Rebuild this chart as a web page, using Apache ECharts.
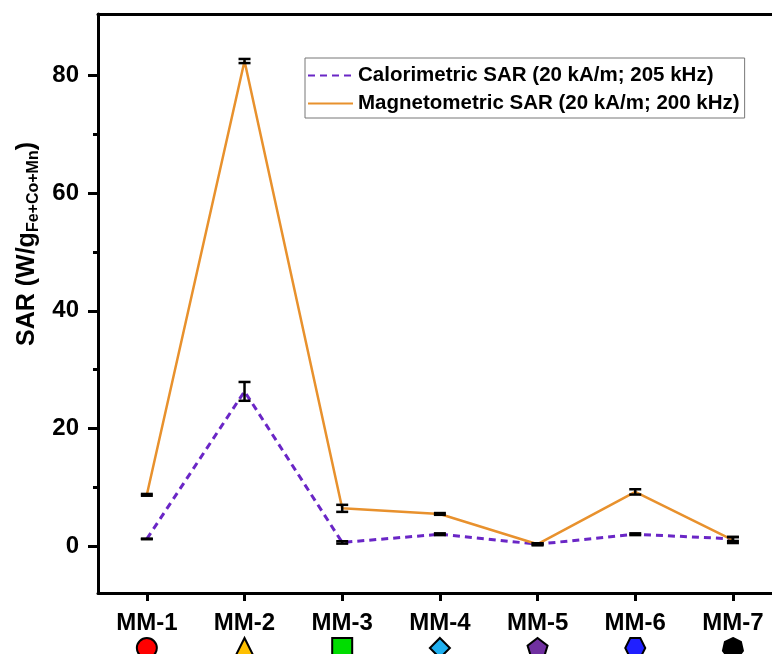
<!DOCTYPE html>
<html>
<head>
<meta charset="utf-8">
<script src="https://cdn.jsdelivr.net/npm/echarts@6/dist/echarts.min.js"></script>
<style>html,body{margin:0;padding:0;background:#fff;}#c{width:772px;height:654px;}</style>
</head>
<body>
<div id="c"></div>
<script>
const categories = ['MM-1', 'MM-2', 'MM-3', 'MM-4', 'MM-5', 'MM-6', 'MM-7'];
const categoryPositions = [1, 2, 3, 4, 5, 6, 7];
const calSAR = [1.2, 26.3, 0.6, 2.0, 0.3, 2.0, 1.2];
const calErr = [0.05, 1.6, 0.2, 0.15, 0.15, 0.15, 0.35];
const magSAR = [8.7, 82.5, 6.4, 5.45, 0.3, 9.2, 1.0];
const magErr = [0.15, 0.35, 0.6, 0.15, 0.15, 0.45, 0.5];
const yMajorTicks = [0, 20, 40, 60, 80];
const yMinorTicks = [10, 30, 50, 70];
const calName = 'Calorimetric SAR (20 kA/m; 205 kHz)';
const magName = 'Magnetometric SAR (20 kA/m; 200 kHz)';
const markerValues = [0, 0, 0, 0, 0, 0, 0];

function polyPath(n, startDeg) {
  let s = 'path://';
  for (let k = 0; k < n; k++) {
    const a = (startDeg + k * 360 / n) * Math.PI / 180;
    const x = (50 + 50 * Math.cos(a)).toFixed(2), y = (50 + 50 * Math.sin(a)).toFixed(2);
    s += (k === 0 ? 'M' : 'L') + x + ' ' + y + ' ';
  }
  return s + 'Z';
}
const markerShapes = ['circle', 'triangle', 'rect', 'diamond', polyPath(5, -90), polyPath(6, 0), polyPath(7, -90)];
const markerColors = ['#ff0000', '#ffc000', '#00dd00', '#1fb0f0', '#7030a0', '#2020ff', '#000000'];

const FONT = '"Liberation Sans", Arial, sans-serif';
const chart = echarts.init(document.getElementById('c'));

function errRender(vals, errs) {
  return function (params, api) {
    const x = api.value(0);
    const i = params.dataIndex;
    const v = vals[i], e = errs[i];
    const top = api.coord([x, v + e]);
    const bot = api.coord([x, v - e]);
    const hw = 6;
    const st = { stroke: '#000', lineWidth: 2.5 };
    return {
      type: 'group',
      children: [
        { type: 'line', shape: { x1: top[0], y1: top[1], x2: bot[0], y2: bot[1] }, style: st },
        { type: 'line', shape: { x1: top[0] - hw, y1: top[1], x2: top[0] + hw, y2: top[1] }, style: st },
        { type: 'line', shape: { x1: bot[0] - hw, y1: bot[1], x2: bot[0] + hw, y2: bot[1] }, style: st }
      ]
    };
  };
}

const xMin = 0.5, xMax = 7.4;
const option = {
  animation: false,
  backgroundColor: '#fff',
  grid: [
    { left: 98, top: 14, right: 0, height: 579 },
    { left: 98, top: 642, right: 0, height: 24 }
  ],
  legend: {
    orient: 'vertical',
    left: 305,
    top: 58,
    data: [calName, magName],
    itemWidth: 45,
    itemHeight: 14,
    itemGap: 7,
    padding: [7, 5, 4, 2],
    borderColor: '#777',
    borderWidth: 1,
    itemStyle: { opacity: 0 },
    textStyle: { fontFamily: FONT, fontWeight: 'bold', fontSize: 20.5, color: '#000' }
  },
  xAxis: [
    {
      type: 'value', gridIndex: 0, min: xMin, max: xMax,
      axisLine: { onZero: false, lineStyle: { color: '#000', width: 3 } },
      axisTick: { length: 8, lineStyle: { width: 3, color: '#000' }, customValues: categoryPositions },
      axisLabel: {
        fontFamily: FONT, fontWeight: 'bold', fontSize: 24, color: '#000', margin: 18,
        customValues: categoryPositions,
        formatter: v => categories[Math.round(v) - 1]
      },
      splitLine: { show: false }
    },
    {
      type: 'value', gridIndex: 0, min: xMin, max: xMax, position: 'top',
      axisLine: { show: true, onZero: false, lineStyle: { color: '#000', width: 3 } },
      axisTick: { show: false }, axisLabel: { show: false }, splitLine: { show: false }
    },
    {
      type: 'value', gridIndex: 1, min: xMin, max: xMax, show: false
    }
  ],
  yAxis: [
    {
      type: 'value', gridIndex: 0, min: -8, max: 90.5,
      axisLine: { show: true, onZero: false, lineStyle: { color: '#000', width: 3 } },
      axisTick: { show: true, length: 10, lineStyle: { width: 3, color: '#000' }, customValues: yMajorTicks },
      axisLabel: { fontFamily: FONT, fontWeight: 'bold', fontSize: 24, color: '#000', margin: 19, customValues: yMajorTicks },
      splitLine: { show: false }
    },
    {
      type: 'value', gridIndex: 0, min: -8, max: 90.5, position: 'left',
      axisLine: { show: false, onZero: false },
      axisTick: { show: true, length: 5, lineStyle: { width: 3, color: '#000' }, customValues: yMinorTicks },
      axisLabel: { show: false },
      splitLine: { show: false }
    },
    { type: 'value', gridIndex: 1, min: -1, max: 1, show: false }
  ],
  graphic: [{
    type: 'text',
    x: 27, y: 244,
    rotation: Math.PI / 2,
    style: {
      text: '{a|SAR (W/g}{b|Fe+Co+Mn}{a|)}',
      align: 'center', verticalAlign: 'middle',
      rich: {
        a: { fontFamily: FONT, fontWeight: 'bold', fontSize: 25, color: '#000', lineHeight: 30 },
        b: { fontFamily: FONT, fontWeight: 'bold', fontSize: 16, color: '#000', lineHeight: 30, padding: [14, 0, 0, 0] }
      }
    }
  }],
  series: [
    {
      name: calName, type: 'line', xAxisIndex: 0, yAxisIndex: 0,
      data: calSAR.map((v, i) => [categoryPositions[i], v]),
      symbol: 'none', color: '#6A26C6',
      lineStyle: { color: '#6A26C6', width: 3, type: [7, 5] }, z: 2
    },
    {
      name: magName, type: 'line', xAxisIndex: 0, yAxisIndex: 0,
      data: magSAR.map((v, i) => [categoryPositions[i], v]),
      symbol: 'none', color: '#E8912D',
      lineStyle: { color: '#E8912D', width: 2.5, type: 'solid' }, z: 2
    },
    {
      type: 'custom', xAxisIndex: 0, yAxisIndex: 0, z: 5,
      data: calSAR.map((v, i) => [categoryPositions[i], v]),
      renderItem: errRender(calSAR, calErr)
    },
    {
      type: 'custom', xAxisIndex: 0, yAxisIndex: 0, z: 5,
      data: magSAR.map((v, i) => [categoryPositions[i], v]),
      renderItem: errRender(magSAR, magErr)
    },
    {
      type: 'scatter', xAxisIndex: 2, yAxisIndex: 2, symbolSize: 20,
      itemStyle: { opacity: 1 },
      data: markerValues.map((v, i) => ({
        value: [categoryPositions[i], v], symbol: markerShapes[i],
        itemStyle: { color: markerColors[i], borderColor: '#000', borderWidth: 2, opacity: 1 }
      }))
    }
  ]
};
chart.setOption(option);
</script>
</body>
</html>
